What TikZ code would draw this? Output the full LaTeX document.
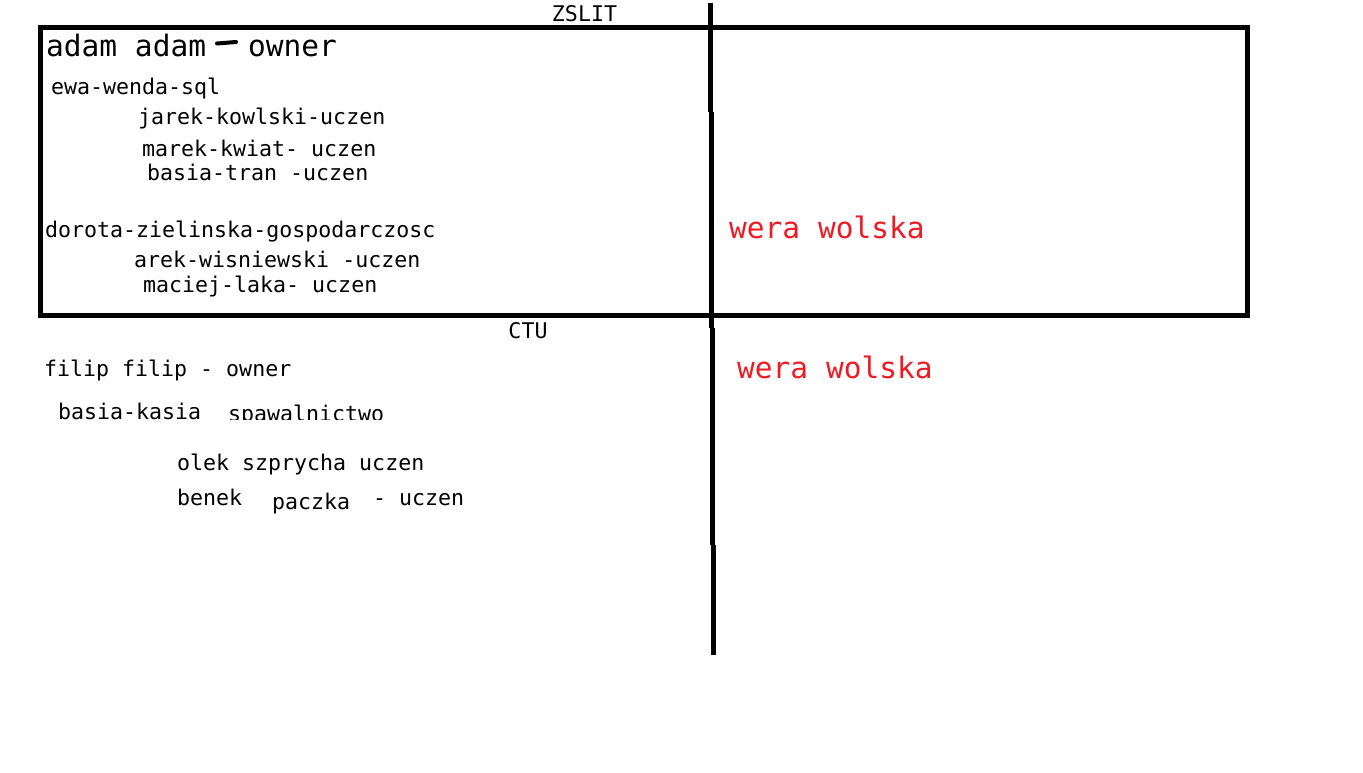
\documentclass[tikz,border=0pt]{standalone}
\usepackage{fontspec}
\setmonofont{DejaVu Sans Mono}
\usepackage{tikz}
\definecolor{paintred}{RGB}{237,28,36}
\tikzset{
  persontxt/.style={anchor=base west, inner sep=0pt,
    font=\ttfamily\fontsize{21.6}{22}\selectfont},
  bigtxt/.style={anchor=base west, inner sep=0pt,
    font=\ttfamily\fontsize{29.5}{29}\selectfont},
  redtxt/.style={anchor=base west, inner sep=0pt, text=paintred,
    font=\ttfamily\fontsize{29.5}{29}\selectfont},
  schooltxt/.style={anchor=base, inner sep=0pt,
    font=\ttfamily\fontsize{21.6}{22}\selectfont},
  stroke/.style={line width=5pt, color=black}
}

\begin{document}
\begin{tikzpicture}[x=1pt, y=-1pt]
  \useasboundingbox (0,0) rectangle (1363,773);

  % ZSLIT frame and divider
  \draw[stroke] (40.5,27.5) rectangle (1247.5,315.5);
  \foreach \xa/\ya/\yb in {710.5/3/112.5, 711.5/112.5/328, 712.5/328/545, 713.5/545/655}
    \draw[stroke] (\xa,\ya) -- (\xa,\yb);

  \node[schooltxt] (zslit) at (584.5,22) {ZSLIT};
  \node[schooltxt] (ctu) at (528,338) {CTU};

  % ZSLIT people
  \node[bigtxt] (adam) at (46,57) {adam adam};
  \node[bigtxt] (owner) at (248,57) {owner};
  \draw[line width=4pt, line cap=round] (217,43.5) -- (236,42);
  \node[persontxt] (ewa) at (51,95) {ewa-wenda-sql};
  \node[persontxt] (jarek) at (138,125) {jarek-kowlski-uczen};
  \node[persontxt] (marek) at (142,157) {marek-kwiat- uczen};
  \node[persontxt] (basiat) at (147,181) {basia-tran -uczen};
  \node[persontxt] (dorota) at (45,237) {dorota-zielinska-gospodarczosc};
  \node[persontxt] (arek) at (134,267) {arek-wisniewski -uczen};
  \node[persontxt] (maciej) at (143,292) {maciej-laka- uczen};
  \node[redtxt] (wera) at (729,238) {wera wolska};

  % CTU people
  \node[persontxt] (filip) at (44,376) {filip filip - owner};
  \node[persontxt] (basiak) at (58,419) {basia-kasia};
  \begin{scope}
    \clip (220,395) rectangle (400,419);
    \node[persontxt] (spaw) at (228,421) {spawalnictwo};
  \end{scope}
  \node[persontxt] (olek) at (177,470) {olek szprycha uczen};
  \node[persontxt] (benek) at (177,505) {benek};
  \node[persontxt] (paczka) at (272,509) {paczka};
  \node[persontxt] (benekucz) at (373,505) {- uczen};
  \node[redtxt] (wera2) at (737,378) {wera wolska};
\end{tikzpicture}
\end{document}
